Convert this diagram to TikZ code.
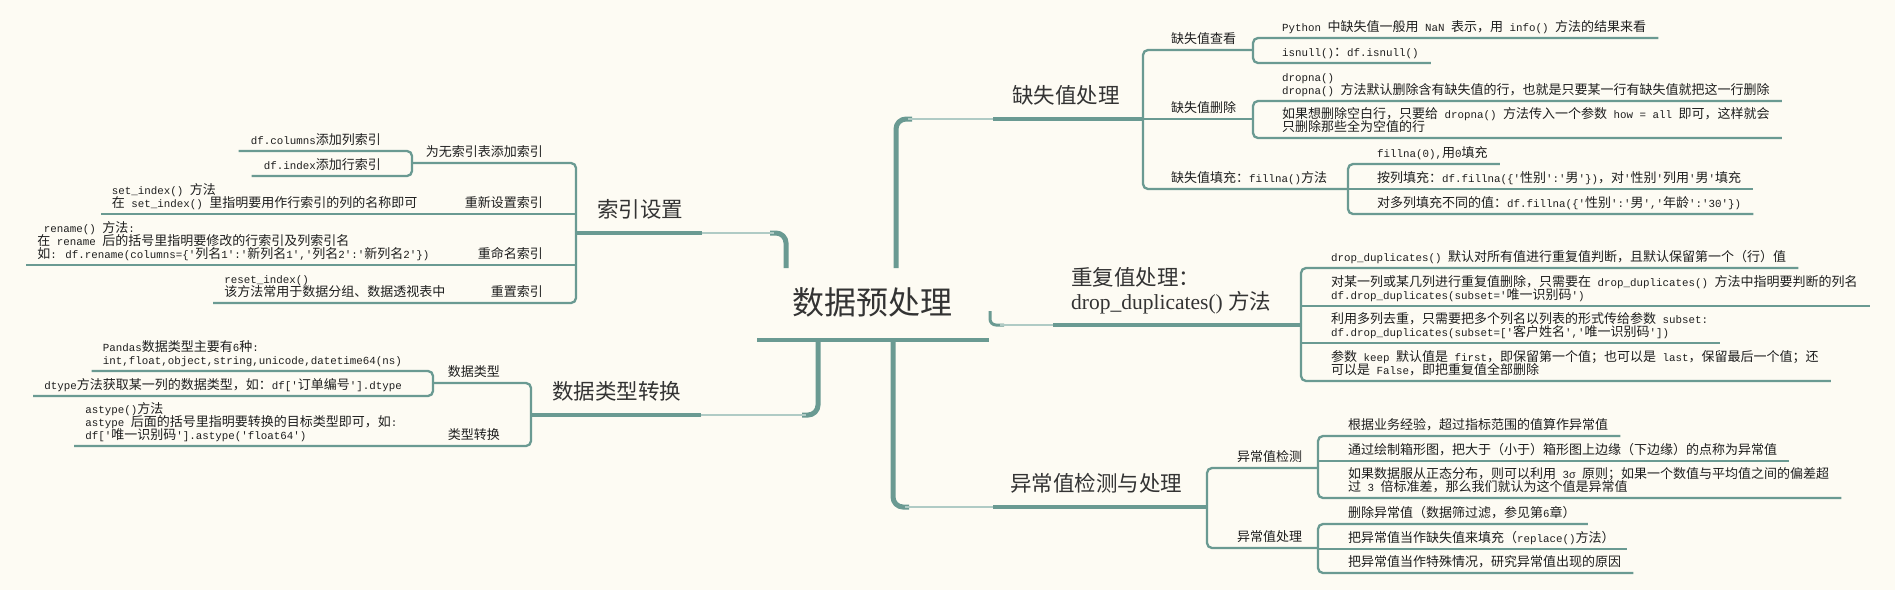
\documentclass[tikz,border=0pt]{standalone}
\usepackage{fontspec}
\newfontfamily\cjkf{Noto Sans CJK SC}
\newfontfamily\monof{Liberation Mono}[Scale=0.833]
\newfontfamily\serf{Liberation Serif}
\newXeTeXintercharclass\CJKcls
\newcount\mycc
\mycc="2E80
\loop \XeTeXcharclass\mycc=\CJKcls \advance\mycc by 1 \ifnum\mycc<"A000 \repeat
\mycc="FF00
\loop \XeTeXcharclass\mycc=\CJKcls \advance\mycc by 1 \ifnum\mycc<"FFF0 \repeat
\mycc="2000
\loop \XeTeXcharclass\mycc=0 \advance\mycc by 1 \ifnum\mycc<"2070 \repeat
\let\latsw\monof
\XeTeXinterchartoks 0 \CJKcls = {\cjkf}
\XeTeXinterchartoks 4095 \CJKcls = {\cjkf}
\XeTeXinterchartoks \CJKcls 0 = {\latsw}
\XeTeXinterchartoks 4095 0 = {\latsw}
\XeTeXinterchartoks \CJKcls 4095 = {\latsw}
\newcommand\leaffont{\fontsize{13pt}{13pt}\selectfont\let\latsw\monof\monof\XeTeXinterchartokenstate=1 \lineskiplimit=-50pt\relax}
\newcommand\mainfnt{\fontsize{21.5pt}{24pt}\selectfont\let\latsw\serf\serf\XeTeXinterchartokenstate=1 \lineskiplimit=-50pt\relax}
\newcommand\rootfnt{\fontsize{32pt}{36pt}\selectfont\cjkf}
\definecolor{bg}{RGB}{253,251,243}
\definecolor{ln}{RGB}{106,154,146}
\definecolor{lnl}{RGB}{176,203,197}
\definecolor{tx}{RGB}{30,30,30}
\definecolor{tm}{RGB}{51,51,51}
\tikzset{
 leaf/.style={inner sep=0pt, font=\leaffont, text=tx, align=left, execute at end node={\rule[-6.5pt]{0pt}{0pt}}},
 lfR/.style={leaf, anchor=south west},
 lfL/.style={leaf, anchor=south east},
 mlab/.style={inner sep=0pt, font=\mainfnt, text=tm, align=left, anchor=south west, execute at end node={\rule[-15pt]{0pt}{0pt}}},
 ln2/.style={draw=ln, line width=2.3pt},
 brk/.style={ln2, rounded corners=5pt},
 ul/.style={draw=ln, line width=4.5pt},
 trunk/.style={draw=ln, line width=5pt, rounded corners=10pt},
 fade/.style={draw=lnl, line width=2.8pt},
}
\begin{document}
\begin{tikzpicture}[x=1pt,y=-1pt]
\useasboundingbox (0,0) rectangle (1895,590);
\fill[bg] (0,0) rectangle (1895,590);

% ---------- root ----------
\node[font=\rootfnt, text=tm, anchor=base, inner sep=0pt] (root) at (872.5,314) {数据预处理};
\coordinate (rootL) at (757,340);
\coordinate (rootR) at (989,340);
\draw[ul] (rootL) -- (rootR);

% ---------- 缺失值处理 ----------
\node[mlab] (qs) at (1012,119) {缺失值处理};
\coordinate (qsK) at (1143,119);
\draw[trunk] (896,268) -- (896,119) -- (912,119);
\draw[fade] (908,119) -- ([xshift=-19pt]qs.south west);
\draw[ul] ([xshift=-19pt]qs.south west) -- (qsK);

\node[lfR] (s1) at (1171,50) {缺失值查看};
\node[lfR] (s2) at (1171,119) {缺失值删除};
\node[lfR] (s3) at (1171,189) {缺失值填充：fillna()方法};
\draw[brk] (1253,50) -- (1143,50) -- (1143,189) -- (1348,189);
\draw[ln2] (qsK) -- (1253,119);

\node[lfR] (p1) at (1282,38) {Python 中缺失值一般用 NaN 表示，用 info() 方法的结果来看};
\node[lfR] (p2) at (1282,63) {isnull()：df.isnull()};
\draw[brk] ([xshift=12pt]p1.south east) -- (1253,38) -- (1253,63) -- ([xshift=12pt]p2.south east);

\node[lfR] (p3) at (1282,101) {dropna()\\dropna() 方法默认删除含有缺失值的行，也就是只要某一行有缺失值就把这一行删除};
\node[lfR] (p4) at (1282,138) {如果想删除空白行，只要给 dropna() 方法传入一个参数 how = all 即可，这样就会\\只删除那些全为空值的行};
\draw[brk] ([xshift=12pt]p3.south east) -- (1253,101) -- (1253,138) -- ([xshift=12pt]p4.south east);

\node[lfR] (p5) at (1377,164) {fillna(0),用0填充};
\node[lfR] (p6) at (1377,189) {按列填充：df.fillna(\{'性别':'男'\})，对'性别'列用'男'填充};
\node[lfR] (p7) at (1377,214) {对多列填充不同的值：df.fillna(\{'性别':'男','年龄':'30'\})};
\draw[brk] ([xshift=12pt]p5.south east) -- (1348,164) -- (1348,214) -- ([xshift=12pt]p7.south east);
\draw[ln2] (1348,189) -- ([xshift=12pt]p6.south east);

% ---------- 重复值处理 ----------
\node[mlab] (cf) at (1071,325) {重复值处理：\\drop\_duplicates() 方法};
\coordinate (cfK) at (1301,325);
\draw[draw=ln, line width=3pt, rounded corners=6pt] (990,311) -- (990,325) -- (1004,325);
\draw[fade] (1000,325) -- ([xshift=-18pt]cf.south west);
\draw[ul] ([xshift=-18pt]cf.south west) -- (cfK);

\node[lfR] (d1) at (1331,268) {drop\_duplicates() 默认对所有值进行重复值判断，且默认保留第一个（行）值};
\node[lfR] (d2) at (1331,306) {对某一列或某几列进行重复值删除，只需要在 drop\_duplicates() 方法中指明要判断的列名\\df.drop\_duplicates(subset='唯一识别码')};
\node[lfR] (d3) at (1331,343) {利用多列去重，只需要把多个列名以列表的形式传给参数 subset:\\df.drop\_duplicates(subset=['客户姓名','唯一识别码'])};
\node[lfR] (d4) at (1331,381) {参数 keep 默认值是 first，即保留第一个值；也可以是 last，保留最后一个值；还\\可以是 False，即把重复值全部删除};
\draw[brk] ([xshift=12pt]d1.south east) -- (1301,268) -- (1301,381) -- ([xshift=12pt]d4.south east);
\draw[ln2] (1301,306) -- ([xshift=12pt]d2.south east);
\draw[ln2] (1301,343) -- ([xshift=12pt]d3.south east);

% ---------- 异常值检测与处理 ----------
\node[mlab] (yc) at (1010,507) {异常值检测与处理};
\coordinate (ycK) at (1207,507);
\draw[trunk] (893,340) -- (893,507) -- (909,507);
\draw[fade] (905,507) -- ([xshift=-17pt]yc.south west);
\draw[ul] ([xshift=-17pt]yc.south west) -- (ycK);

\node[lfR] (e1) at (1237,468) {异常值检测};
\node[lfR] (e2) at (1237,548) {异常值处理};
\draw[brk] (1318,468) -- (1207,468) -- (1207,548) -- (1318,548);

\node[lfR] (f1) at (1348,436) {根据业务经验，超过指标范围的值算作异常值};
\node[lfR] (f2) at (1348,461) {通过绘制箱形图，把大于（小于）箱形图上边缘（下边缘）的点称为异常值};
\node[lfR] (f3) at (1348,498) {如果数据服从正态分布，则可以利用 3σ 原则；如果一个数值与平均值之间的偏差超\\过 3 倍标准差，那么我们就认为这个值是异常值};
\draw[brk] ([xshift=12pt]f1.south east) -- (1318,436) -- (1318,498) -- ([xshift=12pt]f3.south east);
\draw[ln2] (1318,461) -- ([xshift=12pt]f2.south east);

\node[lfR] (g1) at (1348,524) {删除异常值（数据筛过滤，参见第6章）};
\node[lfR] (g2) at (1348,549) {把异常值当作缺失值来填充（replace()方法）};
\node[lfR] (g3) at (1348,573) {把异常值当作特殊情况，研究异常值出现的原因};
\draw[brk] ([xshift=12pt]g1.south east) -- (1318,524) -- (1318,573) -- ([xshift=12pt]g3.south east);
\draw[ln2] (1318,549) -- ([xshift=12pt]g2.south east);

% ---------- 索引设置 ----------
\node[mlab] (sy) at (597,233) {索引设置};
\coordinate (syK) at (576,233);
\draw[trunk] (786,268) -- (786,233) -- (770,233);
\draw[fade] (774,233) -- ([xshift=19pt]sy.south east);
\draw[ul] ([xshift=19pt]sy.south east) -- (syK);

\node[lfL] (a1) at (543,163) {为无索引表添加索引};
\node[lfL] (a2) at (543,214) {重新设置索引};
\node[lfL] (a3) at (543,265) {重命名索引};
\node[lfL] (a4) at (543,303) {重置索引};
\node[lfL] (c2) at ([xshift=-47pt]a2.south west) {set\_index() 方法\\在 set\_index() 里指明要用作行索引的列的名称即可};
\node[lfL] (c3) at ([xshift=-48pt]a3.south west) {\hspace*{6.5pt}rename() 方法:\\在 rename 后的括号里指明要修改的行索引及列索引名\\如: df.rename(columns=\{'列名1':'新列名1','列名2':'新列名2'\})};
\node[lfL] (c4) at ([xshift=-45pt]a4.south west) {reset\_index()\\该方法常用于数据分组、数据透视表中};
\draw[brk] (412,163) -- (576,163) -- (576,303) -- ([xshift=-11pt]c4.south west);
\draw[ln2] (576,214) -- ([xshift=-11pt]c2.south west);
\draw[ln2] (576,265) -- ([xshift=-11pt]c3.south west);

\node[lfL] (b1) at (381,151) {df.columns添加列索引};
\node[lfL] (b2) at (381,176) {df.index添加行索引};
\draw[brk] ([xshift=-12pt]b1.south west) -- (412,151) -- (412,176) -- ([xshift=-12pt]b2.south west);

% ---------- 数据类型转换 ----------
\node[mlab] (lx) at (552,415) {数据类型转换};
\coordinate (lxK) at (531,415);
\draw[trunk] (818,340) -- (818,415) -- (802,415);
\draw[fade] (806,415) -- ([xshift=20pt]lx.south east);
\draw[ul] ([xshift=20pt]lx.south east) -- (lxK);

\node[lfL] (h1) at (500,383) {数据类型};
\node[lfL] (h2) at (500,446) {类型转换};
\node[lfL] (j1) at ([xshift=-50pt]h2.south west) {astype()方法\\astype 后面的括号里指明要转换的目标类型即可，如:\\df['唯一识别码'].astype('float64')};
\draw[brk] (433,383) -- (531,383) -- (531,446) -- ([xshift=-11pt]j1.south west);

\node[lfL] (i1) at (402,371) {Pandas数据类型主要有6种:\\int,float,object,string,unicode,datetime64(ns)};
\node[lfL] (i2) at (402,396) {dtype方法获取某一列的数据类型，如：df['订单编号'].dtype};
\draw[brk] ([xshift=-11pt]i1.south west) -- (433,371) -- (433,396) -- ([xshift=-11pt]i2.south west);
\end{tikzpicture}
\end{document}
